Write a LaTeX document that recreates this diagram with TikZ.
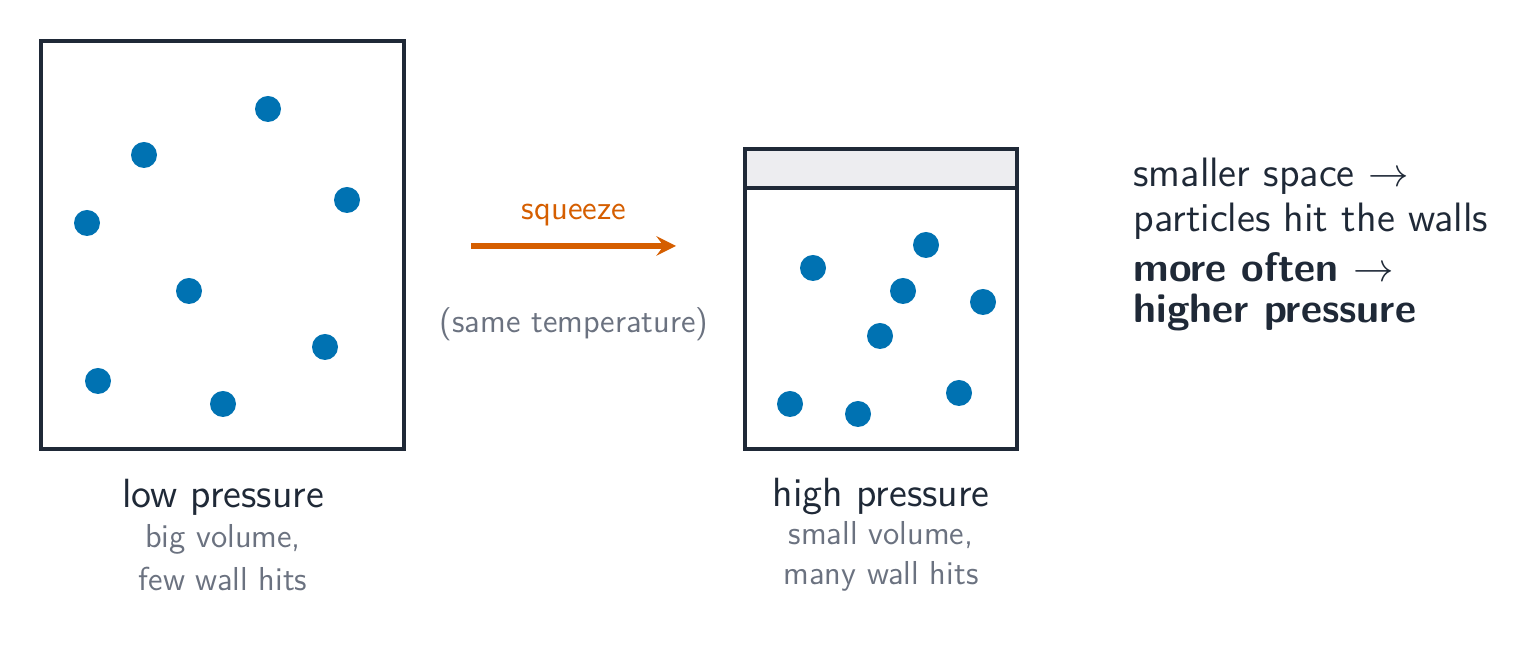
\documentclass[tikz,border=0pt]{standalone}
\usepackage{tikz}
\usetikzlibrary{positioning}
\definecolor{ink}{HTML}{1F2937}
\definecolor{dotblue}{HTML}{0072B2}
\definecolor{squeezeor}{HTML}{D55E00}
\definecolor{note}{HTML}{6B7280}
\definecolor{lid}{HTML}{EDEDF0}
\tikzset{
   mybox/.style={draw=ink, line width=1.3pt},
   mydot/.style={circle, fill=dotblue, inner sep=0pt, minimum size=26*0.0125cm},
   mytitle/.style={text=ink, font=\sffamily\fontsize{14.5}{16}\selectfont},
   mynote/.style={text=note, font=\sffamily\fontsize{11.8}{13}\selectfont},
   myside/.style={text=ink, anchor=west, inner sep=0pt, font=\sffamily\fontsize{14.6}{16}\selectfont}
}
\begin{document}
\begin{tikzpicture}[x=0.0125cm,y=-0.0125cm]
   \useasboundingbox (0,0) rectangle (1540,646);
   % containers
   \draw [mybox] (41,41) rectangle (404,449);
   \draw [mybox, fill=lid] (745,149) rectangle (1017,188);
   \draw [mybox] (745,188) rectangle (1017,449);
   % particles
   \foreach \x/\y [count=\i] in {268/109,144/155,87/223,347/200,189/291,325/347,98/381,223/404}
      \node [mydot] (l\i) at (\x,\y) {};
   \foreach \x/\y [count=\i] in {813/268,926/245,903/291,983/302,880/336,790/404,858/414,959/393}
      \node [mydot] (r\i) at (\x,\y) {};
   % arrow
   \coordinate (from) at (471,246);
   \coordinate (to) at (676,246);
   \draw [squeezeor, line width=2pt, -stealth] (from) -- (to);
   \node [text=squeezeor, font=\sffamily\fontsize{11.9}{13}\selectfont] (sq) at (574,215) {squeeze};
   \node [mynote] (temp) at (574,324) {(same temperature)};
   % captions
   \node [mytitle] (lowp) at (223,497) {low pressure};
   \node [mynote] (lown1) at (223,539) {big volume,};
   \node [mynote] (lown2) at (223,579) {few wall hits};
   \node [mytitle] (highp) at (881,497) {high pressure};
   \node [mynote] (highn1) at (881,535) {small volume,};
   \node [mynote] (highn2) at (881,576) {many wall hits};
   % explanation
   \node [myside] (s1) at (1133,176) {smaller space $\rightarrow$};
   \node [myside] (s2) at (1133,221) {particles hit the walls};
   \node [myside] (s3) at (1133,267) {\bfseries more often $\rightarrow$};
   \node [myside] (s4) at (1133,312) {\bfseries higher pressure};
\end{tikzpicture}
\end{document}
